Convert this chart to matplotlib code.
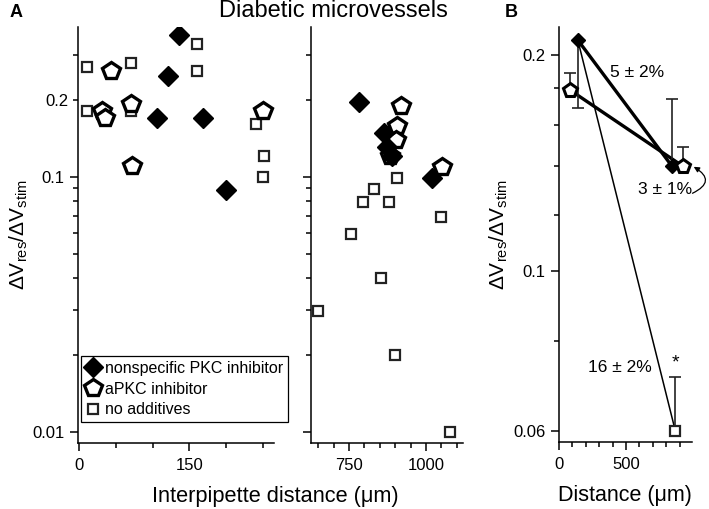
import numpy as np
import matplotlib
matplotlib.use('Agg')
import matplotlib.pyplot as plt
from matplotlib.ticker import FixedLocator, FuncFormatter, LogLocator, NullFormatter
from matplotlib.lines import Line2D

plt.rcParams['font.family'] = ['Liberation Sans', 'DejaVu Sans']
plt.rcParams['mathtext.fontset'] = 'custom'
plt.rcParams['mathtext.rm'] = 'Liberation Sans'
plt.rcParams['mathtext.it'] = 'Liberation Sans:italic'

# panel A, short distances
left_dia_x = [136, 121, 106, 169, 200]
left_dia_y = [0.36, 0.248, 0.17, 0.17, 0.089]
left_pent_x = [43, 31, 35, 71, 72, 251]
left_pent_y = [0.26, 0.181, 0.17, 0.192, 0.11, 0.181]
left_sq_x = [10, 10, 71, 71, 161, 161, 241, 252, 251]
left_sq_y = [0.27, 0.181, 0.28, 0.181, 0.33, 0.26, 0.161, 0.121, 0.10]

# panel A, long distances
right_dia_x = [783, 864, 872, 889, 1018]
right_dia_y = [0.197, 0.148, 0.131, 0.12, 0.0985]
right_pent_x = [918, 907, 902, 883, 1053]
right_pent_y = [0.189, 0.158, 0.139, 0.12, 0.109]
right_sq_x = [905, 831, 794, 880, 1049, 755, 854, 650, 899, 1078]
right_sq_y = [0.099, 0.0896, 0.0794, 0.0794, 0.0694, 0.0594, 0.04, 0.0297, 0.02, 0.01]

# panel B, means with one-sided error bars
b_dia_x = [142, 843]
b_dia_y = [0.21, 0.14]
b_dia_err = [[0.041, 0.0], [0.0, 0.034]]
b_pent_x = [82, 925]
b_pent_y = [0.179, 0.14]
b_pent_err = [[0.0, 0.0], [0.010, 0.009]]
b_sq_x = [866]
b_sq_y = [0.06]
b_sq_err = [[0.0], [0.0113]]

labels = ['nonspecific PKC inhibitor', 'aPKC inhibitor', 'no additives']
ylab = r'$\Delta\mathrm{V}_{\mathrm{res}}/\Delta\mathrm{V}_{\mathrm{stim}}$'

dia = dict(marker='D', ms=10, mfc='black', mec='black', ls='none')
pent = dict(marker='p', ms=13, mfc='white', mec='black', mew=2.4, ls='none')
sq = dict(marker='s', ms=6.5, mfc='white', mec='#222222', mew=1.6, ls='none')

fig = plt.figure(figsize=(7.09, 5.09), dpi=100)
ax1 = fig.add_axes([0.110, 0.130, 0.276, 0.817])
ax2 = fig.add_axes([0.439, 0.130, 0.214, 0.817])
ax3 = fig.add_axes([0.788, 0.132, 0.188, 0.815])

for ax in (ax1, ax2, ax3):
    ax.spines['top'].set_visible(False)
    ax.spines['right'].set_visible(False)
    ax.spines['left'].set_linewidth(1.1)
    ax.spines['bottom'].set_linewidth(1.1)
    ax.set_yscale('log')
    ax.tick_params(which='major', direction='out', length=6, width=1.1, labelsize=12)
    ax.tick_params(which='minor', direction='out', length=3.5, width=1.1, labelsize=12)
    ax.tick_params(axis='x', which='both', pad=5)

for ax in (ax1, ax2):
    ax.set_ylim(0.00906, 0.386)
    ax.yaxis.set_major_locator(FixedLocator([0.01, 0.1]))
    ax.yaxis.set_minor_locator(LogLocator(subs=np.arange(2, 10)))

ax1.yaxis.set_major_formatter(FuncFormatter(lambda v, p: '0.01' if v < 0.05 else '0.1'))
ax1.yaxis.set_minor_formatter(FuncFormatter(lambda v, p: '0.2' if abs(v - 0.2) < 1e-6 else ''))
ax2.yaxis.set_major_formatter(NullFormatter())
ax2.yaxis.set_minor_formatter(NullFormatter())

ax1.plot(left_sq_x, left_sq_y, **sq)
ax1.plot(left_pent_x, left_pent_y, **pent)
ax1.plot(left_dia_x, left_dia_y, **dia)
ax1.set_xlim(-2, 265)
ax1.set_xticks([0, 150])
ax1.set_xticks([50, 100, 200, 250], minor=True)
ax1.set_ylabel(ylab, fontsize=15, labelpad=2)

ax2.plot(right_sq_x, right_sq_y, **sq)
ax2.plot(right_pent_x, right_pent_y, **pent)
ax2.plot(right_dia_x, right_dia_y, **dia)
ax2.set_xlim(627, 1120)
ax2.set_xticks([750, 1000])
ax2.set_xticks([650, 700, 800, 850, 900, 950, 1050, 1100], minor=True)

handles = [Line2D([], [], **dia), Line2D([], [], **pent), Line2D([], [], **sq)]
leg = ax1.legend(handles, labels, loc='lower left', bbox_to_anchor=(0.015, 0.05),
                 fontsize=11.5, frameon=True, fancybox=False, framealpha=1,
                 edgecolor='black', handlelength=0.9, handletextpad=0.3,
                 borderpad=0.3, labelspacing=0.35, borderaxespad=0)
leg.get_frame().set_linewidth(0.9)
leg.set_zorder(10)

fig.text(0.388, 0.024, 'Interpipette distance (μm)', ha='center', va='center', fontsize=15.7)
fig.text(0.470, 0.978, 'Diabetic microvessels', ha='center', va='center', fontsize=17)

# panel B
ax3.plot([b_dia_x[0], b_sq_x[0]], [b_dia_y[0], b_sq_y[0]], color='black', lw=1.1, zorder=1)
ax3.plot(b_dia_x, b_dia_y, color='black', lw=2.4, zorder=2)
ax3.plot(b_pent_x, b_pent_y, color='black', lw=2.4, zorder=2)
ax3.errorbar(b_dia_x, b_dia_y, yerr=b_dia_err, fmt='none', ecolor='#222222', elinewidth=1.2, capsize=4, capthick=1.2, zorder=2)
ax3.errorbar(b_pent_x, b_pent_y, yerr=b_pent_err, fmt='none', ecolor='#222222', elinewidth=1.2, capsize=4, capthick=1.2, zorder=2)
ax3.errorbar(b_sq_x, b_sq_y, yerr=b_sq_err, fmt='none', ecolor='#222222', elinewidth=1.2, capsize=4, capthick=1.2, zorder=2)
ax3.plot(b_dia_x, b_dia_y, marker='D', ms=7.5, mfc='black', mec='black', ls='none', zorder=3)
ax3.plot(b_pent_x, b_pent_y, marker='p', ms=10, mfc='white', mec='black', mew=2.2, ls='none', zorder=3)
ax3.plot(b_sq_x, b_sq_y, marker='s', ms=6.5, mfc='white', mec='#222222', mew=1.6, ls='none', zorder=3)

ax3.set_xlim(0, 990)
ax3.set_ylim(0.0579, 0.219)
ax3.set_xticks([0, 500])
ax3.set_xticks([100, 200, 300, 400, 600, 700, 800, 900], minor=True)
ax3.yaxis.set_major_locator(FixedLocator([0.06, 0.1, 0.2]))
ax3.yaxis.set_major_formatter(FuncFormatter(lambda v, p: {0.06: '0.06', 0.1: '0.1', 0.2: '0.2'}.get(round(v, 2), '')))
ax3.yaxis.set_minor_locator(FixedLocator([0.08, 0.12, 0.14, 0.16, 0.18]))
ax3.yaxis.set_minor_formatter(NullFormatter())
ax3.set_xlabel('Distance (μm)', fontsize=15.5, labelpad=9)
ax3.set_ylabel(ylab, fontsize=15, labelpad=2)

ax3.text(582, 0.189, '5 ± 2%', ha='center', va='center', fontsize=12.5)
ax3.text(791, 0.13, '3 ± 1%', ha='center', va='center', fontsize=12.5)
ax3.text(455, 0.0735, '16 ± 2%', ha='center', va='center', fontsize=12.5)
ax3.text(866, 0.0725, '*', ha='center', va='bottom', fontsize=14)
ax3.annotate('', xy=(985, 0.1405), xytext=(975, 0.128),
             arrowprops=dict(arrowstyle='-|>', color='black', lw=0.9, mutation_scale=8,
                             connectionstyle='arc3,rad=1.0'),
             annotation_clip=False)

fig.text(0.014, 0.975, 'A', fontsize=13, fontweight='bold', va='center')
fig.text(0.712, 0.975, 'B', fontsize=13, fontweight='bold', va='center')

fig.savefig('out.png', dpi=100)
